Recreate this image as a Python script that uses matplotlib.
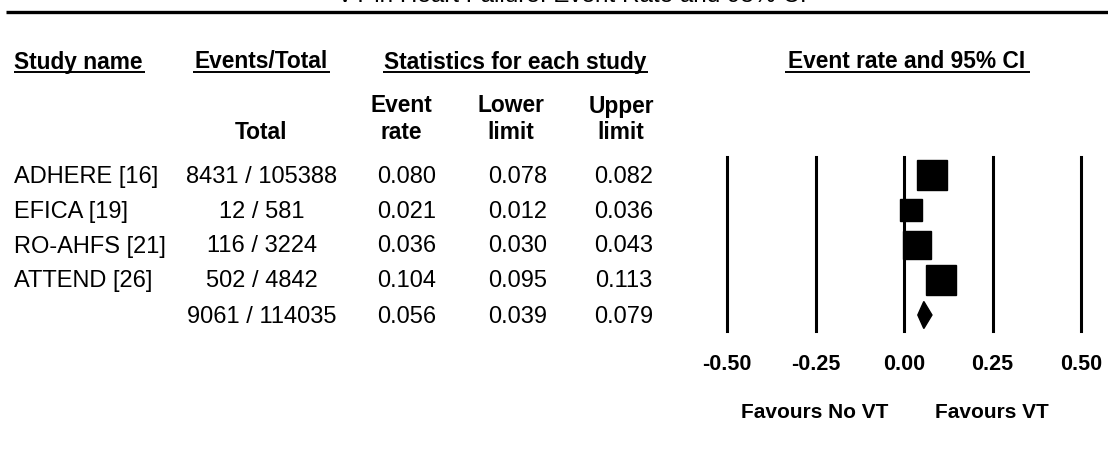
import matplotlib
matplotlib.use("Agg")
import matplotlib.pyplot as plt
from matplotlib.patches import Polygon

plt.rcParams['font.family'] = ['Liberation Sans', 'DejaVu Sans']

# study data
studies = ["ADHERE [16]", "EFICA [19]", "RO-AHFS [21]", "ATTEND [26]"]
events = [8431, 12, 116, 502]
totals = [105388, 581, 3224, 4842]
rates = [0.080, 0.021, 0.036, 0.104]
lower = [0.078, 0.012, 0.030, 0.095]
upper = [0.082, 0.036, 0.043, 0.113]
rel_weight = [27.1, 20.6, 25.2, 27.1]

# pooled estimate
pooled_events = 9061
pooled_total = 114035
pooled_rate = 0.056
pooled_lower = 0.039
pooled_upper = 0.079

xticks = [-0.50, -0.25, 0.00, 0.25, 0.50]
title = "VT in Heart Failure: Event Rate and 95% CI"

W, H = 1108, 460
fig = plt.figure(figsize=(W / 100, H / 100), dpi=100)

# background axes in pixel units for the table text
bg = fig.add_axes([0, 0, 1, 1])
bg.set_xlim(0, W)
bg.set_ylim(H, 0)
bg.axis("off")

bold = dict(fontsize=16.4, fontweight="bold")
norm = dict(fontsize=17.0)

bg.text(572, 2, title, ha="center", va="baseline", fontsize=17.5)
bg.plot([6, W], [13, 13], color="black", lw=2.4, solid_capstyle="butt")

# column headers with underlines
bg.text(14, 62, "Study name", ha="left", va="center", **bold)
bg.text(261, 62, "Events/Total", ha="center", va="center", **bold)
bg.text(515, 62, "Statistics for each study", ha="center", va="center", **bold)
bg.text(907, 62, "Event rate and 95% CI", ha="center", va="center", **bold)
for x0, x1 in [(14, 145), (193, 330), (383, 648), (785, 1030)]:
    bg.plot([x0, x1], [73, 73], color="black", lw=1.4, solid_capstyle="butt")

bg.text(261, 133, "Total", ha="center", va="center", **bold)
for xc, top, bot in [(401, "Event", "rate"), (511, "Lower", "limit"), (621, "Upper", "limit")]:
    bg.text(xc, 106, top, ha="center", va="center", **bold)
    bg.text(xc, 133, bot, ha="center", va="center", **bold)

row_y = [176, 211, 245, 280]
sum_y = 316
dy = 1.5  # text sits slightly below the marker centre
for i, y in enumerate(row_y):
    bg.text(14, y + dy, studies[i], ha="left", va="center", **norm)
    bg.text(262, y + dy, f"{events[i]} / {totals[i]}", ha="center", va="center", **norm)
    bg.text(407, y + dy, f"{rates[i]:.3f}", ha="center", va="center", **norm)
    bg.text(518, y + dy, f"{lower[i]:.3f}", ha="center", va="center", **norm)
    bg.text(624, y + dy, f"{upper[i]:.3f}", ha="center", va="center", **norm)
bg.text(262, sum_y + dy, f"{pooled_events} / {pooled_total}", ha="center", va="center", **norm)
bg.text(407, sum_y + dy, f"{pooled_rate:.3f}", ha="center", va="center", **norm)
bg.text(518, sum_y + dy, f"{pooled_lower:.3f}", ha="center", va="center", **norm)
bg.text(624, sum_y + dy, f"{pooled_upper:.3f}", ha="center", va="center", **norm)

# forest plot axes: -0.5 .. 0.5 across px 727..1081, lines from px 158 to 332
left, right, top_px, bot_px = 727, 1081, 158, 332
ax = fig.add_axes([left / W, (H - bot_px) / H, (right - left) / W, (bot_px - top_px) / H])
ax.set_xlim(-0.5, 0.5)
step = 35.0
ax.set_ylim(4 + (bot_px - sum_y) / step, -(row_y[0] - top_px) / step)
ax.patch.set_alpha(0)
for s in ax.spines.values():
    s.set_visible(False)
ax.set_yticks([])

for xv in xticks:
    ax.axvline(xv, color="black", lw=2.2, zorder=1, clip_on=False)

max_side = 21.0  # points
for i in range(len(studies)):
    ax.plot([lower[i], upper[i]], [i, i], color="black", lw=1, zorder=2)
    side = max_side * rel_weight[i] / max(rel_weight)
    ax.plot(rates[i], i, marker="s", ms=side, color="black", mec="black", ls="none", zorder=3)

hh = 13.5 / step
diamond = Polygon([(pooled_lower, 4), (pooled_rate, 4 - hh), (pooled_upper, 4), (pooled_rate, 4 + hh)],
                  closed=True, facecolor="black", edgecolor="black", zorder=3)
ax.add_patch(diamond)

ax.set_xticks(xticks)
ax.set_xticklabels([f"{v:.2f}" for v in xticks], fontsize=15.5, fontweight="bold")
ax.tick_params(axis="x", length=0, pad=16)

bg.text(815, 413, "Favours No VT", ha="center", va="center", fontsize=15, fontweight="bold")
bg.text(992, 413, "Favours VT", ha="center", va="center", fontsize=15, fontweight="bold")

fig.savefig("out.png", dpi=100)
